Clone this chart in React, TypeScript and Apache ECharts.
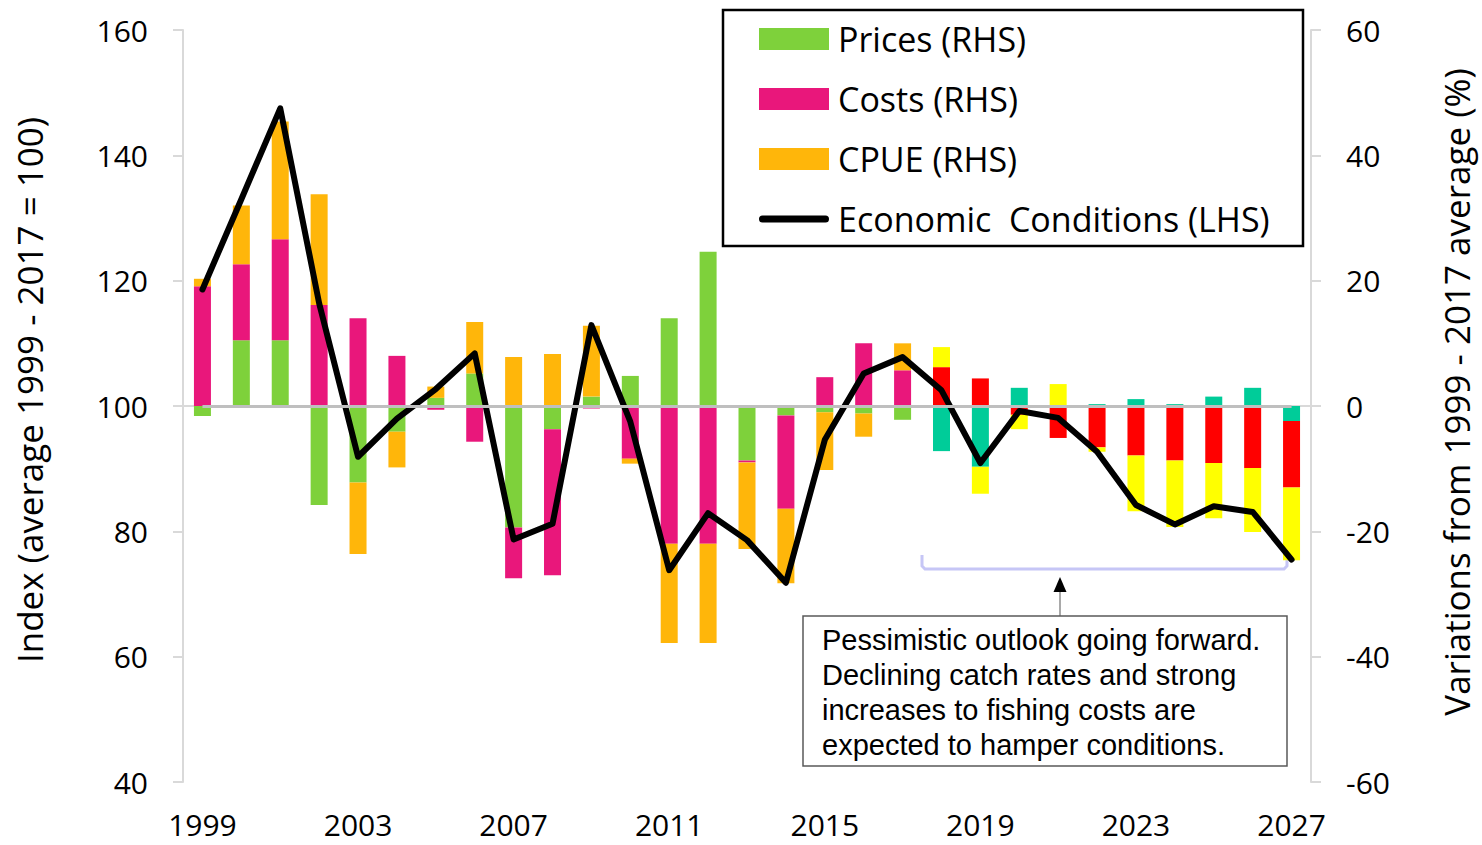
import React, { useEffect, useRef } from "react";
import * as echarts from "echarts";

const years = [
  "1999", "2000", "2001", "2002", "2003", "2004", "2005", "2006", "2007", "2008",
  "2009", "2010", "2011", "2012", "2013", "2014", "2015", "2016", "2017", "2018",
  "2019", "2020", "2021", "2022", "2023", "2024", "2025", "2026", "2027",
];
const forecastFrom = "2018";

// % variations (RHS)
const prices = [
  -1.6, 10.5, 10.5, -15.8, -12.2, -4.1, 1.3, 5.2, -19.4, -3.7,
  1.5, 4.8, 14.0, 24.6, -8.7, -1.5, -1.0, -1.2, -2.2, -7.2,
  -9.7, 2.9, 0, 0.3, 1.1, 0.3, 1.5, 2.9, -2.4,
];
const costs = [
  19.1, 12.1, 16.1, 16.1, 14.0, 8.0, -0.6, -5.7, -8.1, -23.3,
  -0.4, -8.4, -22.0, -22.0, -0.3, -14.9, 4.6, 10.0, 5.7, 6.2,
  4.4, -1.4, -5.1, -6.6, -7.9, -8.7, -9.1, -9.9, -10.6,
];
const cpue = [
  1.2, 9.4, 18.8, 17.7, -11.4, -5.7, 1.8, 8.2, 7.8, 8.3,
  11.3, -0.8, -15.8, -15.8, -13.8, -11.9, -9.2, -3.7, 4.3, 3.2,
  -4.3, -2.3, 3.5, -0.7, -8.9, -10.6, -8.8, -10.2, -11.6,
];
// Index (LHS)
const economic = [
  118.6, 133.0, 147.5, 116.4, 91.9, 98.0, 102.7, 108.4, 78.7, 81.2,
  112.9, 97.5, 73.8, 82.9, 78.6, 71.8, 94.6, 105.2, 107.8, 102.5,
  90.9, 99.2, 98.1, 92.7, 84.2, 81.1, 84.0, 83.1, 75.5,
];
const baseline = 100;

const leftTicks = { min: 40, max: 160, interval: 20 };
const rightTicks = { min: -60, max: 60, interval: 20 };

const names = {
  prices: "Prices (RHS)",
  costs: "Costs (RHS)",
  cpue: "CPUE (RHS)",
  econ: "Economic  Conditions (LHS)",
};
const colors = {
  prices: "#7ED13B",
  costs: "#E9177B",
  cpue: "#FFB60A",
  pricesF: "#00CC99",
  costsF: "#FF0000",
  cpueF: "#FFFF00",
};

const annotation = [
  "Pessimistic outlook going forward.",
  "Declining catch rates and strong",
  "increases to fishing costs are",
  "expected to hamper conditions.",
];

const FONT = "'Open Sans', sans-serif";

function withForecast(values: number[], fc: string) {
  const start = years.indexOf(forecastFrom);
  return values.map((v, i) => (i >= start ? { value: v, itemStyle: { color: fc } } : v));
}

export default function App() {
  const ref = useRef<HTMLDivElement>(null);
  useEffect(() => {
    if (!ref.current) return;
    const chart = echarts.init(ref.current, undefined, { renderer: "svg" });
    const axisGrey = "#D9D9D9";
    const barCommon = {
      type: "bar",
      stack: "total",
      yAxisIndex: 1,
      barWidth: 17,
      z: 2,
    };
    chart.setOption({
      animation: false,
      grid: { left: 183, right: 169, top: 30, bottom: 63, containLabel: false },
      legend: {
        orient: "vertical",
        left: 759,
        top: 22,
        padding: 0,
        itemWidth: 70,
        itemHeight: 22,
        itemGap: 26,
        selectedMode: false,
        textStyle: { fontFamily: FONT, fontSize: 34, color: "#000", lineHeight: 33, padding: [0, 0, 0, 4] },
        data: [
          { name: names.prices, icon: "rect" },
          { name: names.costs, icon: "rect" },
          { name: names.cpue, icon: "rect" },
          {
            name: names.econ,
            icon: "path://M3.5,0 L66.5,0 A3.5,3.5 0 0 1 66.5,7 L3.5,7 A3.5,3.5 0 0 1 3.5,0 Z",
            itemStyle: { color: "#000" },
          },
        ],
      },
      xAxis: {
        type: "category",
        data: years,
        boundaryGap: true,
        axisLine: { lineStyle: { color: axisGrey, width: 2 } },
        axisTick: { interval: 0, length: 10, lineStyle: { color: axisGrey, width: 2 } },
        axisLabel: { interval: 3, margin: 27, fontSize: 30, lineHeight: 30, fontFamily: FONT, color: "#000" },
        splitLine: { show: false },
      },
      yAxis: [
        {
          type: "value",
          position: "left",
          min: leftTicks.min,
          max: leftTicks.max,
          interval: leftTicks.interval,
          name: "Index (average 1999 - 2017 = 100)",
          nameLocation: "middle",
          nameRotate: 90,
          nameGap: 136,
          nameTextStyle: { fontFamily: FONT, fontSize: 35, color: "#000", padding: [0, 0, 0, 32] },
          axisLine: { show: true, lineStyle: { color: axisGrey, width: 2 } },
          axisTick: { show: true, length: 10, lineStyle: { color: axisGrey, width: 2 } },
          axisLabel: { margin: 35, fontSize: 30, fontFamily: FONT, color: "#000" },
          splitLine: { show: false },
        },
        {
          type: "value",
          position: "right",
          min: rightTicks.min,
          max: rightTicks.max,
          interval: rightTicks.interval,
          name: "Variations from 1999 - 2017 average (%)",
          nameLocation: "middle",
          nameRotate: 90,
          nameGap: 128,
          nameTextStyle: { fontFamily: FONT, fontSize: 35, color: "#000", padding: [0, 0, 0, 28] },
          axisLine: { show: true, lineStyle: { color: axisGrey, width: 2 } },
          axisTick: { show: true, length: 10, lineStyle: { color: axisGrey, width: 2 } },
          axisLabel: { margin: 35, fontSize: 30, fontFamily: FONT, color: "#000", align: "left" },
          splitLine: { show: false },
        },
      ],
      series: [
        { ...barCommon, name: names.prices, itemStyle: { color: colors.prices }, data: withForecast(prices, colors.pricesF) },
        { ...barCommon, name: names.costs, itemStyle: { color: colors.costs }, data: withForecast(costs, colors.costsF) },
        { ...barCommon, name: names.cpue, itemStyle: { color: colors.cpue }, data: withForecast(cpue, colors.cpueF) },
        {
          type: "line",
          name: "baseline",
          yAxisIndex: 0,
          data: [],
          z: 3,
          silent: true,
          markLine: {
            silent: true,
            symbol: ["none", "none"],
            label: { show: false },
            lineStyle: { color: "#BFBFBF", width: 3, type: "solid" },
            data: [[{ coord: [years[0], baseline] }, { coord: [years[years.length - 1], baseline] }]],
          },
        },
        {
          type: "line",
          name: names.econ,
          yAxisIndex: 0,
          data: economic,
          symbol: "none",
          z: 4,
          lineStyle: { color: "#000", width: 6, cap: "round", join: "round" },
          itemStyle: { color: "#000" },
        },
      ],
      graphic: [
        {
          type: "rect",
          silent: true,
          shape: { x: 723, y: 10, width: 580, height: 236 },
          style: { fill: "none", stroke: "#000", lineWidth: 2.5 },
        },
        {
          type: "polyline",
          silent: true,
          shape: { points: [[922, 555], [922, 566], [925, 569], [1284, 569], [1287, 566], [1287, 555]] },
          style: { fill: "none", stroke: "#C6C6F6", lineWidth: 3 },
        },
        {
          type: "line",
          silent: true,
          shape: { x1: 1060, y1: 616, x2: 1060, y2: 590 },
          style: { stroke: "#8C8C8C", lineWidth: 1.5 },
        },
        {
          type: "polygon",
          silent: true,
          shape: { points: [[1060, 577], [1053.5, 592], [1066.5, 592]] },
          style: { fill: "#000" },
        },
        {
          type: "rect",
          silent: true,
          shape: { x: 803, y: 616, width: 484, height: 150 },
          style: { fill: "#fff", stroke: "#595959", lineWidth: 1.5 },
        },
        {
          type: "text",
          silent: true,
          x: 822,
          y: 622,
          style: {
            text: annotation.join("\n"),
            fontFamily: "'Liberation Sans', Arial, sans-serif",
            fontSize: 29,
            lineHeight: 35,
            fill: "#000",
            verticalAlign: "top",
          },
        },
      ],
    });
    return () => chart.dispose();
  }, []);
  return (
    <div
      ref={ref}
      style={{ position: "fixed", left: 0, top: 0, width: 1482, height: 845, background: "#fff" }}
    />
  );
}
